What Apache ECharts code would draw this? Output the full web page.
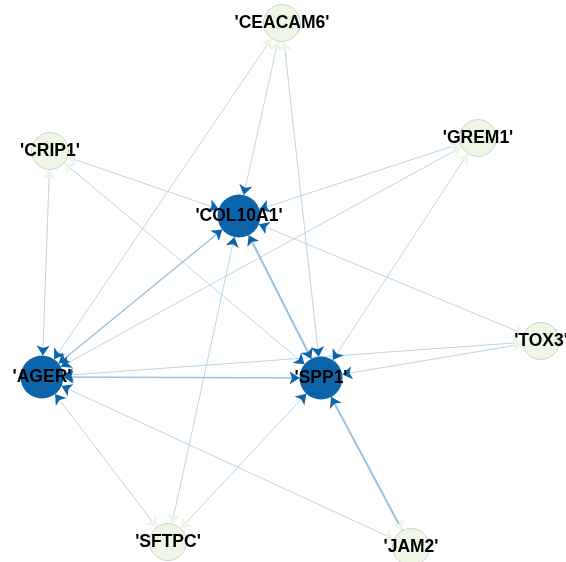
<!DOCTYPE html>
<html><head><meta charset="utf-8">
<script src="https://cdn.jsdelivr.net/npm/echarts@6/dist/echarts.min.js"></script>
<style>html,body{margin:0;padding:0;background:#fff}#c{width:566px;height:562px}</style>
</head><body><div id="c"></div>
<script>
// Nodes
const nodeNames = ["'CEACAM6'", "'CRIP1'", "'GREM1'", "'COL10A1'", "'TOX3'", "'AGER'", "'SPP1'", "'SFTPC'", "'JAM2'"];
const nodeX = [282, 50, 478, 239, 541, 42, 321, 168, 411];
const nodeY = [23, 151, 138, 216, 341, 377, 378, 542, 547];
const nodeIsHub = [false, false, false, true, false, true, true, false, false];

// Edges (undirected pairs, drawn with arrows both ways)
const edgeSource = ["'CEACAM6'", "'CEACAM6'", "'CEACAM6'", "'CRIP1'", "'CRIP1'", "'CRIP1'", "'GREM1'", "'GREM1'", "'GREM1'", "'TOX3'", "'TOX3'", "'TOX3'", "'SFTPC'", "'SFTPC'", "'SFTPC'", "'JAM2'", "'JAM2'", "'COL10A1'", "'COL10A1'", "'AGER'"];
const edgeTarget = ["'AGER'", "'COL10A1'", "'SPP1'", "'AGER'", "'COL10A1'", "'SPP1'", "'COL10A1'", "'AGER'", "'SPP1'", "'COL10A1'", "'AGER'", "'SPP1'", "'AGER'", "'COL10A1'", "'SPP1'", "'SPP1'", "'AGER'", "'AGER'", "'SPP1'", "'SPP1'"];
const edgeWeight = [1, 1, 1, 1, 1, 1, 1, 1, 1, 1, 1, 1, 1, 1, 1, 2, 1, 1.4, 2, 1.4];

const HUB = '#0c64aa', LEAF = '#eef6e6';
const hubOf = {};
nodeNames.forEach((n, i) => hubOf[n] = nodeIsHub[i]);

const nodes = nodeNames.map((n, i) => ({
  name: n, x: nodeX[i], y: nodeY[i],
  symbolSize: nodeIsHub[i] ? 43 : 37,
  itemStyle: nodeIsHub[i]
    ? { color: HUB, borderColor: HUB, borderWidth: 0 }
    : { color: LEAF, borderColor: '#c4c9c0', borderWidth: 0.8 }
}));

const links = [];
edgeSource.forEach((s, i) => {
  const t = edgeTarget[i], w = edgeWeight[i];
  links.push({
    source: s, target: t, symbol: ['none', 'none'],
    lineStyle: { width: w, color: w > 1.2 ? '#80b1d8' : '#a9cbe4', opacity: 0.8 }
  });
});
edgeSource.forEach((s, i) => {
  const t = edgeTarget[i];
  [[s, t], [t, s]].forEach(([a, b]) => {
    links.push({
      source: a, target: b, symbol: ['none', 'arrow'], symbolSize: [0, 10],
      lineStyle: { width: 0, color: hubOf[b] ? HUB : LEAF, opacity: 1 }
    });
  });
});

const minX = Math.min(...nodeX), maxX = Math.max(...nodeX);
const minY = Math.min(...nodeY), maxY = Math.max(...nodeY);

const chart = echarts.init(document.getElementById('c'), null, { renderer: 'canvas' });
chart.setOption({
  backgroundColor: '#ffffff',
  animation: false,
  series: [{
    type: 'graph',
    layout: 'none',
    left: minX, top: minY, width: maxX - minX, height: maxY - minY,
    roam: false,
    data: nodes,
    links: links,
    edgeSymbol: ['none', 'none'],
    label: {
      show: true, position: 'inside', color: '#000',
      fontFamily: 'Liberation Sans, Arial, sans-serif', fontWeight: 'bold', fontSize: 17.5
    },
    emphasis: { disabled: true },
    lineStyle: { curveness: 0 }
  }]
});
</script></body></html>
